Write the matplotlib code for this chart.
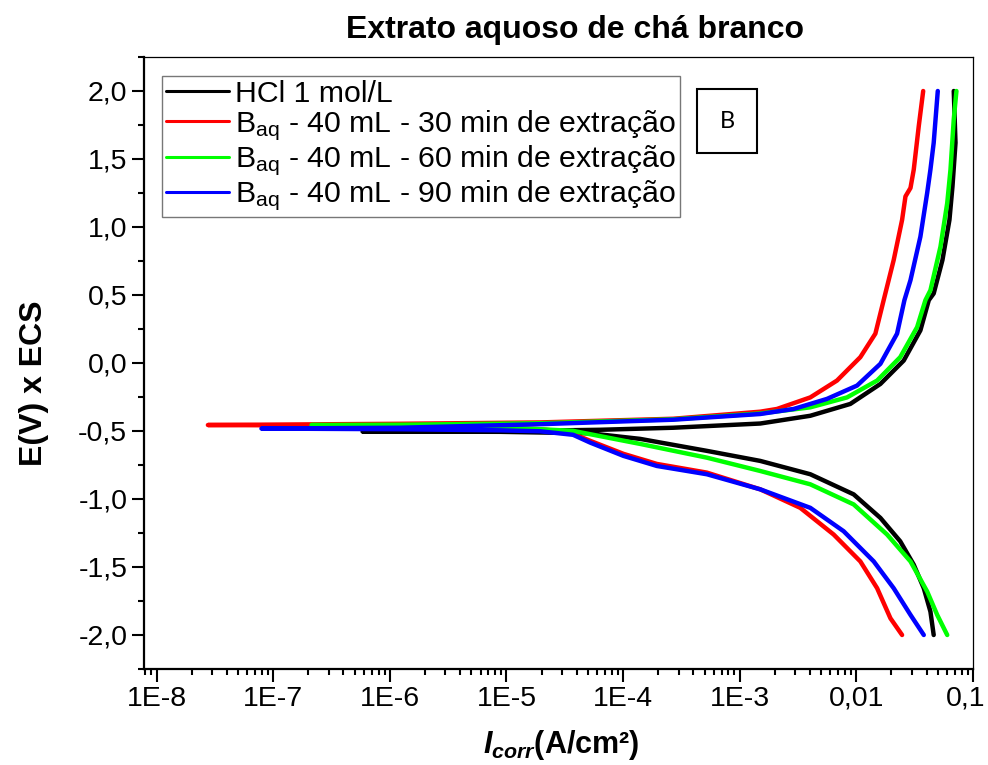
import matplotlib
matplotlib.use("Agg")
import matplotlib.pyplot as plt
import numpy as np
from matplotlib import font_manager as fm
from matplotlib.ticker import MultipleLocator, LogLocator, FixedLocator, NullFormatter
from matplotlib.patches import Rectangle
from matplotlib.transforms import ScaledTranslation


def has_font(name):
    try:
        fm.findfont(fm.FontProperties(family=name), fallback_to_default=False)
        return True
    except Exception:
        return False


FONT = "Liberation Sans" if has_font("Liberation Sans") else "DejaVu Sans"

# dados: log10(i / A cm^-2) e E (V x ECS)
# ramo catódico (E = -2) -> ponta em Ecorr -> ramo anódico (E = +2)
hcl_logi = [-1.337, -1.365, -1.422, -1.508, -1.624, -1.794, -2.023, -2.395, -2.824,
            -3.282, -3.854, -4.283, -5.056, -6.234, -5.056, -4.197, -3.571, -2.824, -2.395,
            -2.052, -1.794, -1.594, -1.451, -1.379, -1.337, -1.262, -1.202, -1.176, -1.150, -1.165]
hcl_E = [-2.0, -1.828, -1.656, -1.483, -1.311, -1.139, -0.966, -0.818, -0.720,
         -0.646, -0.558, -0.517, -0.506, -0.504, -0.502, -0.491, -0.476, -0.445, -0.388,
         -0.301, -0.154, 0.018, 0.240, 0.462, 0.511, 0.757, 1.052, 1.298, 1.619, 2.0]

b30_logi = [-1.608, -1.708, -1.822, -1.966, -2.195, -2.481, -2.824, -3.282, -3.711, -3.997,
            -4.283, -4.429, -4.569, -4.712, -5.056, -5.914, -7.560, -5.914, -4.712, -3.571,
            -2.824, -2.681, -2.395, -2.166, -1.966, -1.837, -1.766, -1.680, -1.608, -1.579,
            -1.536, -1.508, -1.465, -1.427]
b30_E = [-2.0, -1.877, -1.656, -1.459, -1.261, -1.065, -0.929, -0.806, -0.742, -0.668,
         -0.572, -0.521, -0.499, -0.487, -0.476, -0.462, -0.456, -0.447, -0.437, -0.410,
         -0.358, -0.338, -0.253, -0.129, 0.043, 0.216, 0.462, 0.757, 1.052, 1.225,
         1.287, 1.422, 1.742, 2.0]

b60_logi = [-1.221, -1.307, -1.393, -1.536, -1.737, -2.023, -2.395, -2.824, -3.282, -3.854,
            -4.429, -4.712, -5.056, -5.914, -6.672, -5.914, -4.712, -3.571, -2.824, -2.395,
            -2.080, -1.822, -1.624, -1.479, -1.408, -1.365, -1.279, -1.221, -1.193, -1.165, -1.142]
b60_E = [-2.0, -1.852, -1.680, -1.459, -1.261, -1.040, -0.892, -0.794, -0.696, -0.595,
         -0.499, -0.487, -0.476, -0.465, -0.456, -0.454, -0.443, -0.414, -0.371, -0.326,
         -0.253, -0.129, 0.043, 0.264, 0.462, 0.535, 0.855, 1.176, 1.422, 1.791, 2.0]

b90_logi = [-1.422, -1.536, -1.680, -1.851, -2.109, -2.395, -2.824, -3.282, -3.711, -3.997,
            -4.283, -4.429, -4.712, -5.056, -5.914, -7.101, -5.914, -4.712, -3.571, -2.824,
            -2.538, -2.252, -1.994, -1.794, -1.651, -1.588, -1.536, -1.451, -1.393, -1.365,
            -1.337, -1.302]
b90_E = [-2.0, -1.852, -1.656, -1.459, -1.237, -1.065, -0.929, -0.818, -0.757, -0.683,
         -0.585, -0.528, -0.502, -0.495, -0.487, -0.482, -0.476, -0.450, -0.417, -0.375,
         -0.338, -0.264, -0.166, -0.006, 0.216, 0.462, 0.609, 0.929, 1.250, 1.422,
         1.619, 2.0]

labels = ["HCl 1 mol/L",
          r"B$_{\mathrm{aq}}$ - 40 mL - 30 min de extração",
          r"B$_{\mathrm{aq}}$ - 40 mL - 60 min de extração",
          r"B$_{\mathrm{aq}}$ - 40 mL - 90 min de extração"]
cores = ["#000000", "#ff0000", "#00ff00", "#0000ff"]

xticks = [1e-8, 1e-7, 1e-6, 1e-5, 1e-4, 1e-3, 1e-2, 1e-1]
xticklabels = ["1E-8", "1E-7", "1E-6", "1E-5", "1E-4", "1E-3", "0,01", "0,1"]
yticks = [-2.0, -1.5, -1.0, -0.5, 0.0, 0.5, 1.0, 1.5, 2.0]
yticklabels = ["-2,0", "-1,5", "-1,0", "-0,5", "0,0", "0,5", "1,0", "1,5", "2,0"]

plt.rcParams["font.family"] = FONT
plt.rcParams["mathtext.fontset"] = "custom"
plt.rcParams["mathtext.rm"] = FONT
plt.rcParams["mathtext.it"] = FONT + ":italic:bold"
plt.rcParams["mathtext.bf"] = FONT + ":bold"

fig = plt.figure(figsize=(9.88, 7.65), dpi=100)
ax = fig.add_axes([144 / 988, 1 - 669 / 765, (973 - 144) / 988, (669 - 57) / 765])

series = [(hcl_logi, hcl_E), (b30_logi, b30_E), (b60_logi, b60_E), (b90_logi, b90_E)]
for (logi, E), c, lab in zip(series, cores, labels):
    ax.plot(10 ** np.array(logi), E, color=c, lw=3.2, label=lab,
            solid_joinstyle="round", solid_capstyle="round")

ax.set_xscale("log")
ax.set_xlim(7.8e-9, 0.1)
ax.set_ylim(-2.25, 2.25)

ax.xaxis.set_major_locator(FixedLocator(xticks))
ax.set_xticklabels(xticklabels)
ax.xaxis.set_minor_locator(LogLocator(base=10, subs=np.arange(2, 10)))
ax.xaxis.set_minor_formatter(NullFormatter())
ax.set_yticks(yticks)
ax.set_yticklabels(yticklabels)
ax.yaxis.set_minor_locator(MultipleLocator(0.25))

ax.tick_params(which="major", direction="out", length=9, width=1.5, labelsize=20.5, pad=3)
ax.tick_params(which="minor", direction="out", length=4.5, width=1.5)
ax.tick_params(top=False, right=False, which="both")

# "0,1" encostado na borda direita: desloca um pouco para a esquerda
last = ax.xaxis.get_major_ticks()[-1].label1
last.set_transform(last.get_transform() + ScaledTranslation(-5 / 72, 0, fig.dpi_scale_trans))

for s in ["left", "bottom"]:
    ax.spines[s].set_linewidth(1.6)
for s in ["top", "right"]:
    ax.spines[s].set_linewidth(0.9)

leg = ax.legend(loc="upper left", bbox_to_anchor=(0.0217, 0.969), borderaxespad=0,
                fontsize=21.8, frameon=True, fancybox=False, edgecolor="#555555",
                handlelength=2.1, handletextpad=0.2, borderpad=0.12, labelspacing=0.02)
leg.get_frame().set_linewidth(1.0)
for ln in leg.get_lines():
    ln.set_linewidth(2.2)

# caixa "B"
fig.patches.append(Rectangle((697 / 988, 1 - 153 / 765), 60 / 988, 64 / 765,
                             transform=fig.transFigure, fill=False, lw=1.5, ec="black"))
fig.text(727 / 988, 1 - 121 / 765, "B", ha="center", va="center", fontsize=17,
         family=["Lato", FONT])

fig.text(575 / 988, 1 - 30 / 765, "Extrato aquoso de chá branco", ha="center", va="center",
         fontsize=23, fontweight="bold")
fig.text(34 / 988, 1 - 383 / 765, "E(V) x ECS", ha="center", va="center", rotation=90,
         fontsize=23, fontweight="bold")
fig.text(561 / 988, 1 - 745 / 765, r"$I_{corr}$(A/cm²)", ha="center", va="center",
         fontsize=22, fontweight="bold")

fig.savefig("out.png", dpi=100)
